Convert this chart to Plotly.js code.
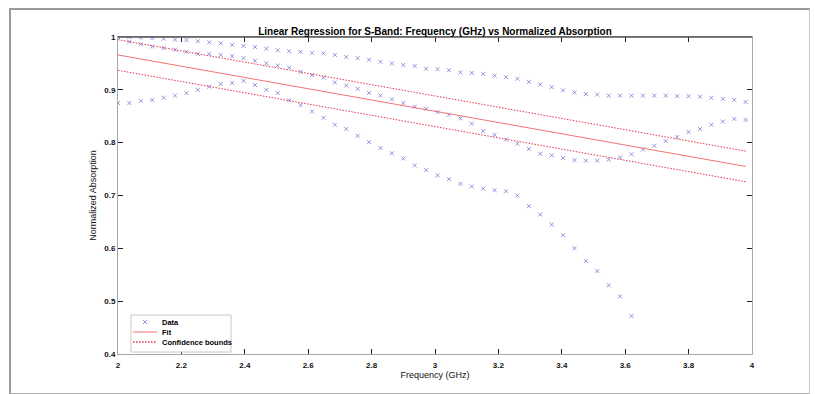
<!DOCTYPE html>
<html>
<head>
<meta charset="utf-8">
<script src="https://cdn.plot.ly/plotly-3.0.1.min.js"></script>
<style>
  html, body { margin: 0; padding: 0; background: #fff; }
  #wrap { position: relative; width: 815px; height: 394px; overflow: hidden; }
  #chart { width: 815px; height: 394px; }
  #frame { position: absolute; left: 9px; top: 8px; width: 798px; height: 383px;
           border-left: 2px solid #9a9a9a; border-top: 2px solid #9a9a9a;
           border-right: 1px solid #c8c8c8; border-bottom: 2px solid #b0b0b0;
           pointer-events: none; }
</style>
</head>
<body>
<div id="wrap">
  <div id="chart"></div>
  <div id="frame"></div>
</div>
<script>
// Frequency grid (GHz)
const freq = [2.000, 2.036, 2.072, 2.108, 2.144, 2.180, 2.216, 2.252, 2.288, 2.324,
              2.360, 2.396, 2.432, 2.468, 2.504, 2.540, 2.576, 2.612, 2.648, 2.684,
              2.720, 2.756, 2.792, 2.828, 2.864, 2.900, 2.936, 2.972, 3.008, 3.044,
              3.080, 3.116, 3.152, 3.188, 3.224, 3.260, 3.296, 3.332, 3.368, 3.404,
              3.440, 3.476, 3.512, 3.548, 3.584, 3.620, 3.656, 3.692, 3.728, 3.764,
              3.800, 3.836, 3.872, 3.908, 3.944, 3.980];

// Data series (normalized absorption)
const seriesA = [1.000, 1.000, 0.999, 0.998, 0.997, 0.995, 0.994, 0.992, 0.990, 0.988,
                 0.985, 0.983, 0.981, 0.978, 0.975, 0.973, 0.972, 0.970, 0.969, 0.966,
                 0.962, 0.960, 0.957, 0.953, 0.950, 0.947, 0.945, 0.940, 0.939, 0.937,
                 0.933, 0.932, 0.930, 0.927, 0.924, 0.921, 0.915, 0.910, 0.905, 0.899,
                 0.895, 0.892, 0.891, 0.889, 0.889, 0.889, 0.889, 0.889, 0.889, 0.888,
                 0.888, 0.887, 0.885, 0.883, 0.881, 0.877];

const seriesB = [1.000, 0.991, 0.986, 0.982, 0.979, 0.976, 0.972, 0.968, 0.968, 0.966,
                 0.964, 0.960, 0.955, 0.950, 0.946, 0.942, 0.934, 0.928, 0.923, 0.914,
                 0.908, 0.902, 0.894, 0.889, 0.882, 0.875, 0.868, 0.864, 0.858, 0.853,
                 0.846, 0.836, 0.822, 0.815, 0.806, 0.798, 0.788, 0.779, 0.776, 0.771,
                 0.767, 0.766, 0.766, 0.768, 0.772, 0.778, 0.787, 0.794, 0.803, 0.811,
                 0.820, 0.826, 0.834, 0.840, 0.845, 0.843];

const seriesC = [0.875, 0.875, 0.879, 0.881, 0.885, 0.889, 0.894, 0.900, 0.906, 0.911,
                 0.913, 0.917, 0.909, 0.900, 0.894, 0.880, 0.871, 0.859, 0.847, 0.834,
                 0.826, 0.813, 0.801, 0.790, 0.780, 0.770, 0.757, 0.748, 0.738, 0.731,
                 0.722, 0.717, 0.713, 0.710, 0.708, 0.700, 0.680, 0.664, 0.645, 0.625,
                 0.600, 0.576, 0.557, 0.530, 0.509, 0.472];

// Regression line and confidence bounds (end points)
const lineX  = [2.0, 3.98];
const fitY   = [0.966, 0.755];
const upperY = [0.995, 0.784];
const lowerY = [0.937, 0.726];

const xTicks = [2, 2.2, 2.4, 2.6, 2.8, 3, 3.2, 3.4, 3.6, 3.8, 4];
const xTickText = ['2', '2.2', '2.4', '2.6', '2.8', '3', '3.2', '3.4', '3.6', '3.8', '4'];
const yTicks = [0.4, 0.5, 0.6, 0.7, 0.8, 0.9, 1];
const yTickText = ['0.4', '0.5', '0.6', '0.7', '0.8', '0.9', '1'];

const legendLabels = ['Data', 'Fit', 'Confidence bounds'];

const FONT = 'Liberation Sans, Arial, sans-serif';
const DATA_COLOR = 'rgba(80,80,205,0.6)';
const FIT_COLOR = 'rgba(240,90,90,0.85)';
const CB_COLOR = 'rgba(225,30,60,0.9)';
const CB_DASH = '1.5px,1.5px';

const markerStyle = {
  symbol: 'x-thin', size: 4, color: DATA_COLOR,
  line: { width: 1, color: DATA_COLOR }
};

const traces = [
  { x: freq, y: seriesA, type: 'scatter', mode: 'markers', name: legendLabels[0], marker: markerStyle },
  { x: freq, y: seriesB, type: 'scatter', mode: 'markers', name: legendLabels[0], marker: markerStyle },
  { x: freq.slice(0, seriesC.length), y: seriesC, type: 'scatter', mode: 'markers', name: legendLabels[0], marker: markerStyle },
  { x: lineX, y: fitY, type: 'scatter', mode: 'lines', name: legendLabels[1],
    line: { color: FIT_COLOR, width: 1 } },
  { x: lineX, y: upperY, type: 'scatter', mode: 'lines', name: legendLabels[2],
    line: { color: CB_COLOR, width: 1, dash: CB_DASH } },
  { x: lineX, y: lowerY, type: 'scatter', mode: 'lines', name: legendLabels[2],
    line: { color: CB_COLOR, width: 1, dash: CB_DASH } }
];

const axisCommon = {
  showgrid: false, zeroline: false, showline: true, mirror: 'ticks',
  linecolor: '#a8a8a8', linewidth: 1, ticks: 'inside', ticklen: 5,
  tickcolor: '#222', tickwidth: 1,
  tickfont: { family: FONT, size: 8, color: '#111', weight: 'bold' }
};

// Compact MATLAB-style legend (box, samples, labels) in paper coordinates
const PW = 634, PH = 317;           // plot area size in px
const px2x = p => p / PW, px2y = p => p / PH;
const lgX0 = px2x(13), lgX1 = px2x(113), lgY0 = px2y(2), lgY1 = px2y(39);
const rowY = [px2y(32), px2y(22), px2y(12)];
const sampX0 = px2x(15), sampX1 = px2x(39), sampXc = px2x(27), textX = px2x(42);
const mdx = px2x(2), mdy = px2y(2);

const shapes = [
  { type: 'line', xref: 'paper', yref: 'paper', x0: 0, x1: 1, y0: 1, y1: 1,
    line: { color: '#555', width: 1.5 } },
  { type: 'rect', xref: 'paper', yref: 'paper', x0: lgX0, x1: lgX1, y0: lgY0, y1: lgY1,
    fillcolor: '#fff', line: { color: '#c8c8c8', width: 1 } },
  { type: 'line', xref: 'paper', yref: 'paper', x0: sampXc - mdx, x1: sampXc + mdx,
    y0: rowY[0] - mdy, y1: rowY[0] + mdy, line: { color: DATA_COLOR, width: 1 } },
  { type: 'line', xref: 'paper', yref: 'paper', x0: sampXc - mdx, x1: sampXc + mdx,
    y0: rowY[0] + mdy, y1: rowY[0] - mdy, line: { color: DATA_COLOR, width: 1 } },
  { type: 'line', xref: 'paper', yref: 'paper', x0: sampX0, x1: sampX1,
    y0: rowY[1], y1: rowY[1], line: { color: FIT_COLOR, width: 1 } },
  { type: 'line', xref: 'paper', yref: 'paper', x0: sampX0, x1: sampX1,
    y0: rowY[2], y1: rowY[2], line: { color: CB_COLOR, width: 1.3, dash: CB_DASH } }
];

const annotations = legendLabels.map((t, i) => ({
  text: t, xref: 'paper', yref: 'paper', x: textX, y: rowY[i],
  xanchor: 'left', yanchor: 'middle', showarrow: false,
  font: { family: FONT, size: 7.5, color: '#000', weight: 'bold' }
}));

const layout = {
  width: 815, height: 394,
  margin: { l: 118, r: 63, t: 37, b: 40 },
  paper_bgcolor: '#fff', plot_bgcolor: '#fff',
  title: {
    text: 'Linear Regression for S-Band: Frequency (GHz) vs Normalized Absorption',
    font: { family: FONT, size: 10, color: '#000', weight: 'bold' },
    x: 0.5, xref: 'paper', xanchor: 'center',
    y: 1, yref: 'paper', yanchor: 'bottom', pad: { b: 2 }
  },
  xaxis: Object.assign({}, axisCommon, {
    range: [2, 4], tickmode: 'array', tickvals: xTicks, ticktext: xTickText,
    ticklabelstandoff: 3,
    title: { text: 'Frequency (GHz)', font: { family: FONT, size: 9, color: '#111' }, standoff: 3 }
  }),
  yaxis: Object.assign({}, axisCommon, {
    range: [0.4, 1], tickmode: 'array', tickvals: yTicks, ticktext: yTickText,
    title: { text: 'Normalized Absorption', font: { family: FONT, size: 9, color: '#111' }, standoff: 6 }
  }),
  shapes: shapes,
  annotations: annotations,
  showlegend: false
};

Plotly.newPlot('chart', traces, layout, { displayModeBar: false, staticPlot: true });
</script>
</body>
</html>
